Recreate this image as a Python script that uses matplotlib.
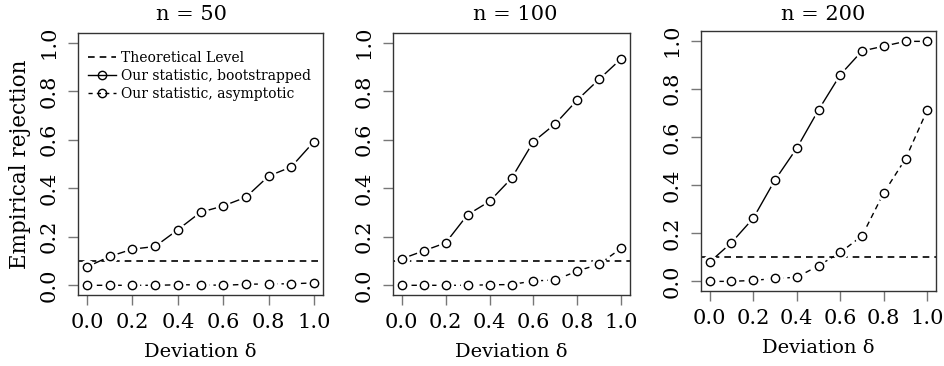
import matplotlib
matplotlib.use("Agg")
import matplotlib.pyplot as plt
from matplotlib.lines import Line2D

plt.rcParams['font.family'] = ['DejaVu Serif']

delta = [0.0, 0.1, 0.2, 0.3, 0.4, 0.5, 0.6, 0.7, 0.8, 0.9, 1.0]
level = 0.1
titles = ["n = 50", "n = 100", "n = 200"]

boot_50 = [0.076, 0.119, 0.149, 0.160, 0.229, 0.301, 0.327, 0.363, 0.450, 0.488, 0.592]
asym_50 = [0.0, 0.0, 0.0, 0.0, 0.002, 0.002, 0.0, 0.004, 0.006, 0.006, 0.010]

boot_100 = [0.109, 0.142, 0.175, 0.291, 0.346, 0.441, 0.592, 0.666, 0.764, 0.850, 0.934]
asym_100 = [0.0, 0.0, 0.0, 0.0, 0.002, 0.003, 0.018, 0.022, 0.059, 0.087, 0.153]

boot_200 = [0.080, 0.161, 0.262, 0.421, 0.553, 0.712, 0.858, 0.957, 0.977, 0.997, 0.997]
asym_200 = [0.0, 0.0, 0.004, 0.012, 0.017, 0.065, 0.120, 0.189, 0.368, 0.509, 0.712]

boot = [boot_50, boot_100, boot_200]
asym = [asym_50, asym_100, asym_200]
ticks = [0.0, 0.2, 0.4, 0.6, 0.8, 1.0]

W, H = 944, 366
# panel boxes in pixels: left, right, top, bottom
boxes = [(78, 323, 33, 295), (393, 630, 33, 295), (701, 936, 31, 291)]
title_x = [191, 515, 823]

fig = plt.figure(figsize=(W / 100, H / 100), dpi=100)
dash = (0, (4, 3))

for i, (l, r, t, b) in enumerate(boxes):
    ax = fig.add_axes([l / W, (H - b) / H, (r - l) / W, (b - t) / H])
    ax.axhline(level, color='black', lw=1.2, ls=dash, zorder=1)
    ax.plot(delta, boot[i], color='black', lw=1.0, zorder=2)
    ax.plot(delta, asym[i], color='black', lw=1.0, ls=dash, zorder=2)
    # white halo under the points, like R's type="b"
    for ys in (boot[i], asym[i]):
        ax.plot(delta, ys, ls='none', marker='o', ms=10, mfc='white', mec='white', zorder=3)
        ax.plot(delta, ys, ls='none', marker='o', ms=6, mfc='white', mec='black', mew=1.0, zorder=4)

    ax.set_xlim(-0.04, 1.04)
    ax.set_ylim(-0.04, 1.04)
    ax.set_xticks(ticks)
    ax.set_yticks(ticks)
    ax.set_xticklabels([f"{v:.1f}" for v in ticks], fontsize=15)
    ax.set_yticklabels([f"{v:.1f}" for v in ticks], fontsize=15, rotation=90, va='center')
    ax.tick_params(direction='out', length=7, width=1.0, color='#777777')
    ax.tick_params(axis='x', pad=6)
    ax.tick_params(axis='y', pad=7)
    for s in ax.spines.values():
        s.set_color('#333333')
        s.set_linewidth(1.0)
    fig.text(title_x[i] / W, 1 - 14 / H, titles[i], fontsize=15, ha='center', va='center')
    ax.set_xlabel("Deviation δ", fontsize=14, labelpad=8)
    if i == 0:
        ax.set_ylabel("Empirical rejection", fontsize=15.5, labelpad=6)
        handles = [
            Line2D([], [], color='black', lw=1.2, ls=dash),
            Line2D([], [], color='black', lw=1.0, marker='o', ms=6, mfc='none', mec='black'),
            Line2D([], [], color='black', lw=1.0, ls=(0, (3, 3)), marker='o', ms=6, mfc='none', mec='black'),
        ]
        ax.legend(handles, ["Theoretical Level", "Our statistic, bootstrapped", "Our statistic, asymptotic"],
                  loc='upper left', frameon=False, fontsize=10, handlelength=2.0,
                  handletextpad=0.4, labelspacing=0.3, borderaxespad=0.3, bbox_to_anchor=(0.0, 0.97))

fig.savefig("out.png", dpi=100)
